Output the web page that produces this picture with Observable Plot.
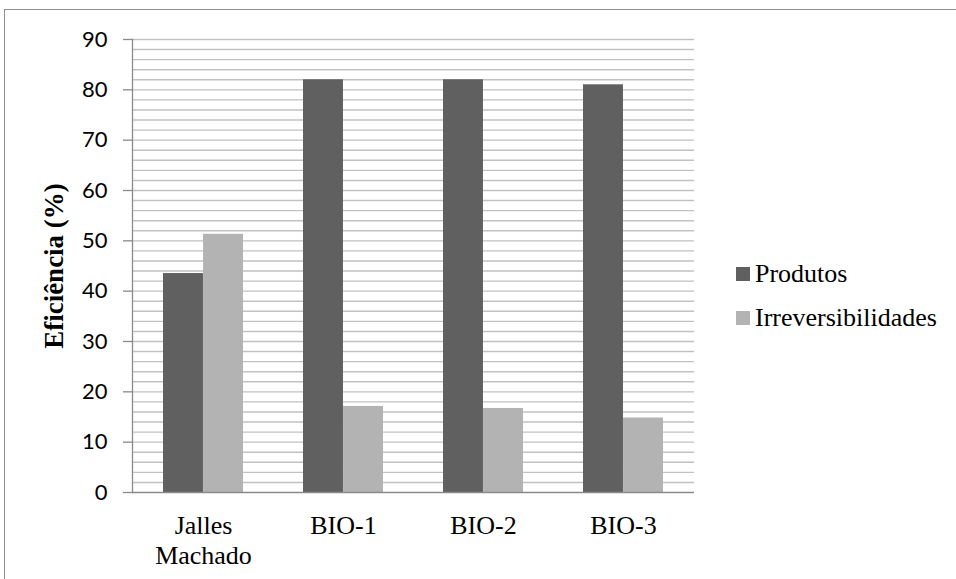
<!DOCTYPE html>
<html>
<head>
<meta charset="utf-8">
<script src="https://cdn.jsdelivr.net/npm/d3@7"></script>
<script src="https://cdn.jsdelivr.net/npm/@observablehq/plot@0.6"></script>
<style>
  html, body { margin: 0; padding: 0; background: #fff; }
  #wrap { position: relative; width: 956px; height: 579px; overflow: hidden; }
  #border { position: absolute; left: 4px; top: 9px; right: -2px; bottom: -2px;
            border-left: 1.3px solid #8e8e8e; border-top: 1.3px solid #8e8e8e; }
  #chart { position: absolute; left: 0; top: 0; }
  #ytitle { position: absolute; left: 54px; top: 266px; transform: translate(-50%, -50%) rotate(-90deg);
            font: bold 27px "Liberation Serif", "Times New Roman", serif; white-space: nowrap; color: #000; }
  #legend { position: absolute; left: 736px; top: 252px; font: 26px "Liberation Serif", "Times New Roman", serif; color: #000; }
  #legend .row { height: 44px; line-height: 44px; white-space: nowrap; }
  #legend .sw { display: inline-block; width: 14px; height: 14px; margin-right: 5px; margin-bottom: 1px; vertical-align: baseline; }
</style>
</head>
<body>
<div id="wrap">
  <div id="border"></div>
  <div id="chart"></div>
  <div id="ytitle"></div>
  <div id="legend"></div>
</div>
<script>
// Categories along the x axis and their printed labels
const categories = ["Jalles Machado", "BIO-1", "BIO-2", "BIO-3"];
const categoryLabels = ["Jalles\nMachado", "BIO-1", "BIO-2", "BIO-3"];

// Series and their values (%)
const series = ["Produtos", "Irreversibilidades"];
const produtos = [43.5, 82, 82, 81];
const irreversibilidades = [51.3, 17.1, 16.7, 14.8];
const seriesColors = ["#606060", "#b3b3b3"];

// Y axis ticks
const yTicks = [0, 10, 20, 30, 40, 50, 60, 70, 80, 90];
const yTitle = "Eficiência (%)";

const labelOf = new Map(categories.map((c, i) => [c, categoryLabels[i]]));
const gridColor = "#c1c1c1";
const axisColor = "#8a8a8a";

// Plot geometry
const width = 956, height = 579;
const margin = {left: 132, right: 262, top: 39, bottom: 87};
const padInner = 0.43, padOuter = padInner / 2;
const step = (width - margin.left - margin.right) / (categories.length - padInner + 2 * padOuter);
const halfBand = step * (1 - padInner) / 2; // each series takes half of a category band

const rows = (values, s) => categories.map((c, i) => ({category: c, series: s, value: values[i]}));

const chart = Plot.plot({
  width,
  height,
  marginLeft: margin.left,
  marginRight: margin.right,
  marginTop: margin.top,
  marginBottom: margin.bottom,
  style: {background: "transparent"},
  x: {domain: categories, paddingInner: padInner, paddingOuter: padOuter, axis: null},
  y: {domain: [0, 90], axis: null},
  color: {domain: series, range: seriesColors},
  marks: [
    // minor grid every 2 units
    Plot.ruleY(d3.range(2, 91, 2), {stroke: gridColor, strokeWidth: 1.4}),
    Plot.barY(rows(produtos, series[0]), {x: "category", y: "value", fill: "series", insetRight: halfBand}),
    Plot.barY(rows(irreversibilidades, series[1]), {x: "category", y: "value", fill: "series", insetLeft: halfBand}),
    Plot.frame({anchor: "left", stroke: axisColor, strokeWidth: 1.3}),
    Plot.ruleY([0], {stroke: axisColor, strokeWidth: 1.6}),
    Plot.axisY(yTicks, {
      tickSize: 9,
      tickPadding: 16,
      stroke: axisColor,
      strokeWidth: 1.3,
      strokeOpacity: 1,
      fontSize: 22,
      fontFamily: "Lato, sans-serif",
      fill: "#000",
      label: null
    }),
    Plot.axisX({
      tickSize: 0,
      tickPadding: 20,
      fontSize: 26,
      lineHeight: 1.15,
      fontFamily: "'Liberation Serif', 'Times New Roman', serif",
      fill: "#000",
      label: null,
      tickFormat: (d) => labelOf.get(d)
    })
  ]
});
document.getElementById("chart").append(chart);

document.getElementById("ytitle").textContent = yTitle;

const legend = document.getElementById("legend");
series.forEach((s, i) => {
  const row = document.createElement("div");
  row.className = "row";
  const sw = document.createElement("span");
  sw.className = "sw";
  sw.style.background = seriesColors[i];
  row.append(sw, document.createTextNode(s));
  legend.append(row);
});
</script>
</body>
</html>
